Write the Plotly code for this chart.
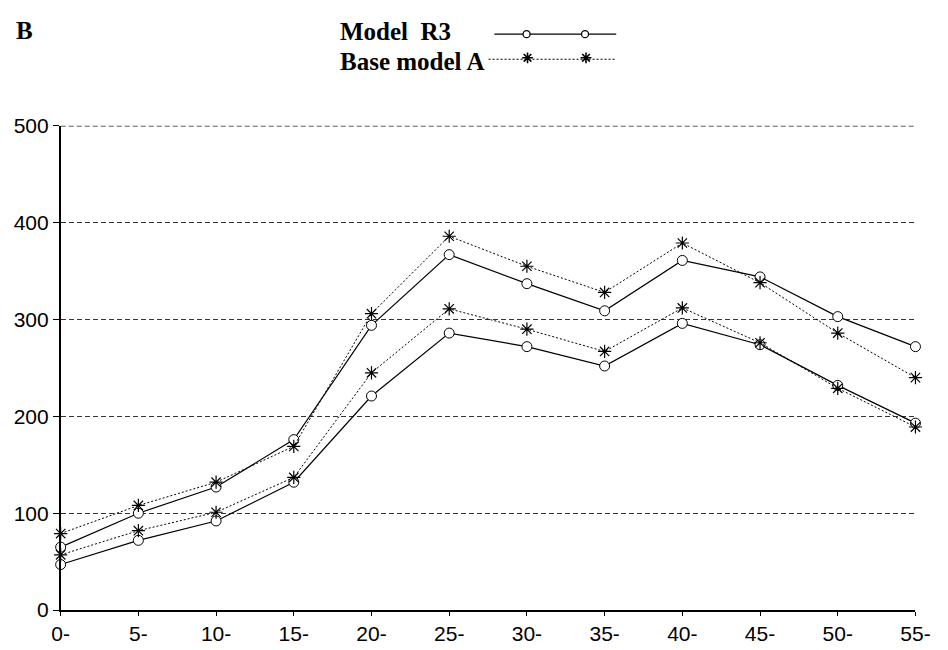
import plotly.graph_objects as go

W, H = 948, 650

# ---- data ----
categories = ["0-", "5-", "10-", "15-", "20-", "25-", "30-", "35-", "40-", "45-", "50-", "55-"]
r3_upper = [65, 100, 127, 176, 294, 367, 337, 309, 361, 344, 303, 272]
base_a_upper = [79, 108, 132, 169, 306, 386, 355, 328, 379, 338, 286, 240]
r3_lower = [47, 72, 92, 132, 221, 286, 272, 252, 296, 274, 232, 193]
base_a_lower = [57, 82, 101, 137, 245, 311, 290, 267, 312, 276, 229, 189]
y_ticks = [0, 100, 200, 300, 400, 500]

# ---- layout geometry (pixels) ----
PX_L, PX_R = 53, 930
PX_TOP, PX_BOT = 118, 620

def px_x(p):
    return p / W

def px_y(p):
    return 1 - p / H

fig = go.Figure()

circle_marker = dict(symbol="circle", size=10, color="white", line=dict(color="black", width=1))
star_marker = dict(symbol="asterisk-open", size=11, color="black", line=dict(color="black", width=1.2))

for name, vals in [("Model R3", r3_upper), ("Model R3", r3_lower)]:
    fig.add_trace(go.Scatter(x=categories, y=vals, mode="lines+markers", name=name,
                             line=dict(color="black", width=1.2),
                             marker=circle_marker, cliponaxis=False, showlegend=False))
for name, vals in [("Base model A", base_a_upper), ("Base model A", base_a_lower)]:
    fig.add_trace(go.Scatter(x=categories, y=vals, mode="lines+markers", name=name,
                             line=dict(color="black", width=1, dash="2px,2px"),
                             marker=star_marker, cliponaxis=False, showlegend=False))

# ---- custom legend on a full-page pixel overlay axis ----
leg_axes = dict(xaxis="x2", yaxis="y2", showlegend=False, hoverinfo="skip", cliponaxis=False)
fig.add_trace(go.Scatter(x=[498, 623], y=[23, 23], mode="lines",
                         line=dict(color="black", width=1.3), **leg_axes))
fig.add_trace(go.Scatter(x=[531, 591], y=[23, 23], mode="markers",
                         marker=dict(symbol="circle", size=7, color="white",
                                     line=dict(color="black", width=1.3)), **leg_axes))
fig.add_trace(go.Scatter(x=[492, 623], y=[49, 49], mode="lines",
                         line=dict(color="black", width=1.2, dash="2px,2px"), **leg_axes))
fig.add_trace(go.Scatter(x=[532, 592], y=[47.5, 47.5], mode="markers",
                         marker=dict(symbol="asterisk-open", size=9, color="black",
                                     line=dict(color="black", width=1.6)), **leg_axes))

serif = "Liberation Serif, Times New Roman, serif"
fig.add_annotation(x=px_x(5), y=px_y(19), xref="paper", yref="paper", text="<b>B</b>",
                   showarrow=False, xanchor="left", yanchor="middle",
                   font=dict(family=serif, size=25, color="black"))
fig.add_annotation(x=px_x(338), y=px_y(20), xref="paper", yref="paper", text="<b>Model  R3</b>",
                   showarrow=False, xanchor="left", yanchor="middle",
                   font=dict(family=serif, size=25, color="black"))
fig.add_annotation(x=px_x(338), y=px_y(51), xref="paper", yref="paper", text="<b>Base model A</b>",
                   showarrow=False, xanchor="left", yanchor="middle",
                   font=dict(family=serif, size=25, color="black"))

# top gridline at 500 (plotly omits the grid line on the plot edge)
fig.add_shape(type="line", xref="x domain", yref="y", x0=0, x1=1, y0=y_ticks[-1], y1=y_ticks[-1],
              line=dict(color="#111111", width=1.2, dash="5px,3px"), layer="above")

sans = "Liberation Sans, Arial, sans-serif"
fig.update_layout(
    width=W, height=H,
    margin=dict(l=0, r=0, t=0, b=0),
    paper_bgcolor="white",
    plot_bgcolor="rgba(0,0,0,0)",
    xaxis=dict(domain=[px_x(PX_L), px_x(PX_R)], type="category", range=[0, len(categories) - 1],
               showgrid=False, zeroline=False, showline=True, linecolor="black", linewidth=1.5,
               ticks="outside", ticklen=4, tickcolor="black", tickwidth=1.2,
               tickfont=dict(family=sans, size=21, color="black")),
    yaxis=dict(domain=[1 - PX_BOT / H, 1 - PX_TOP / H], range=[0, 500], tickvals=y_ticks,
               showgrid=True, gridcolor="#333333", gridwidth=1, griddash="5px,3px",
               zeroline=False, showline=True, linecolor="black", linewidth=1.5,
               ticks="outside", ticklen=6, tickcolor="black", tickwidth=1.2,
               tickfont=dict(family=sans, size=21, color="black")),
    xaxis2=dict(domain=[0, 1], range=[0, W], visible=False, anchor="y2"),
    yaxis2=dict(domain=[0, 1], range=[H, 0], visible=False, anchor="x2"),
)

fig.write_html("out.html")
